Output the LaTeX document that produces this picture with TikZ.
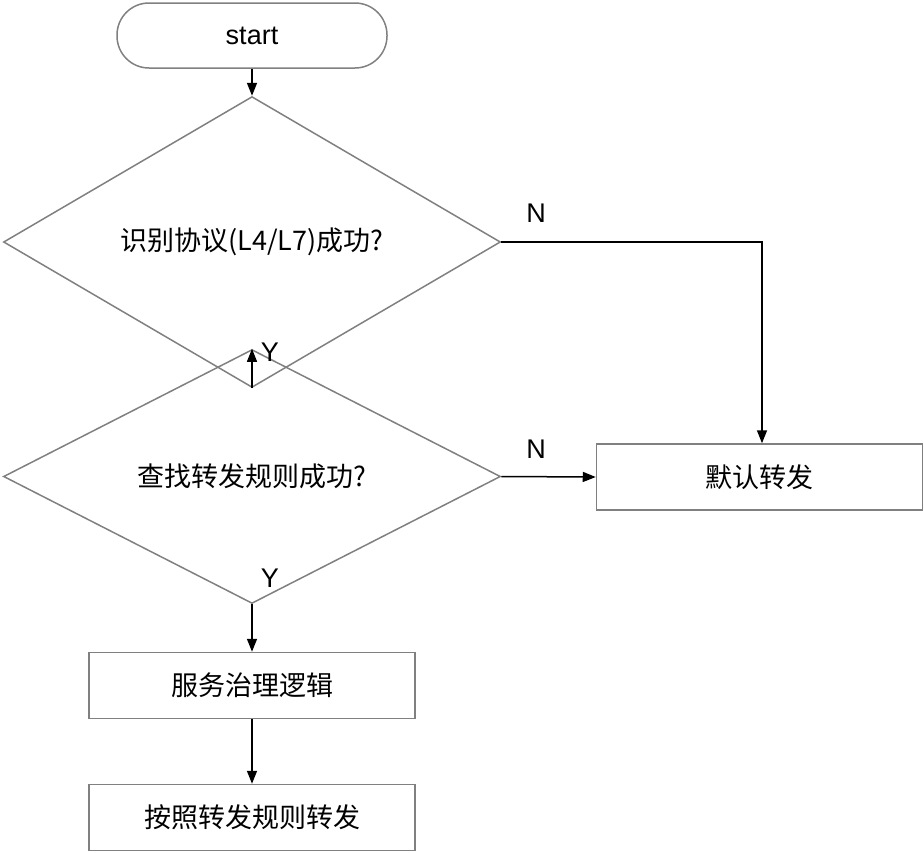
\documentclass[tikz,border=0pt]{standalone}
\usepackage{fontspec}
\setmainfont{Liberation Sans}
\newfontfamily\cjk{Noto Sans CJK SC}
\usetikzlibrary{shapes.geometric,arrows.meta}
\begin{document}
\begin{tikzpicture}[x=1pt,y=-1pt,
  every node/.style={font=\cjk\fontsize{27}{32}\selectfont},
  boxs/.style={draw=black!50,line width=1.5pt,minimum width=326pt,minimum height=66pt,inner sep=0pt},
  dia/.style={draw=black!50,line width=1.5pt,diamond,minimum width=497pt,minimum height=95pt,inner sep=0pt},
  arr/.style={line width=1.5pt,-{Triangle[length=13pt,width=10pt]}},
  lab/.style={font=\fontsize{27}{32}\selectfont}]
\useasboundingbox (0,0) rectangle (924,852);
\node[draw=black!50,line width=1.5pt,rounded corners=32pt,minimum width=270pt,minimum height=65pt,font=\fontsize{27}{32}\selectfont] (s) at (252,35.5) {start};
\node[dia] (d1) at (252,242) {识别协议(L4/L7)成功?};
\node[dia] (d2) at (252,476.5) {查找转发规则成功?};
\node[boxs] (def) at (759.5,477) {默认转发};
\node[boxs] (svc) at (252,685.5) {服务治理逻辑};
\node[boxs] (fw) at (252,817.5) {按照转发规则转发};
\coordinate (c1) at (762,242);
\draw[arr] (s) -- (d1);
\draw[arr] (d1) -- (d2);
\draw[arr] (d1.east) -- (c1) -- (def.north -| c1);
\draw[arr] (d2.east) -- (def.west);
\draw[arr] (d2) -- (svc);
\draw[arr] (svc) -- (fw);
\node[lab] (n1) at (536,213) {N};
\node[lab] (n2) at (536,449) {N};
\node[lab] (y1) at (270,352) {Y};
\node[lab] (y2) at (270,578) {Y};
\end{tikzpicture}
\end{document}
